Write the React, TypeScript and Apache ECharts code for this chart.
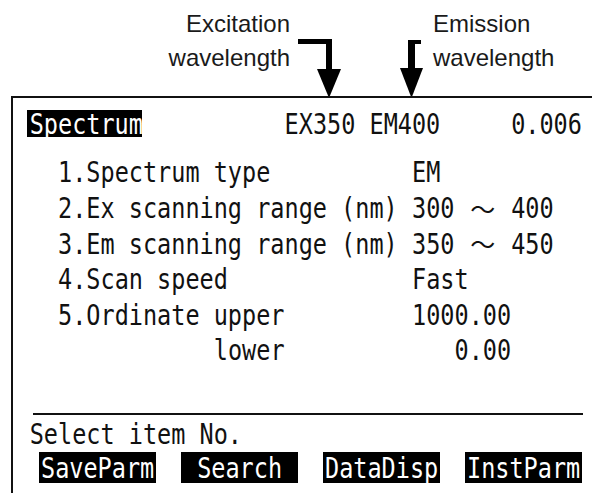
import React, { useEffect, useRef } from "react";
import * as echarts from "echarts";

// ---- content ----
const annotationExcitation = ["Excitation", "wavelength"];
const annotationEmission = ["Emission", "wavelength"];
const headerTitle = "Spectrum";
const headerWavelengths = "EX350 EM400";
const headerReading = "0.006";
const itemLabels = [
  "1.Spectrum type",
  "2.Ex scanning range (nm)",
  "3.Em scanning range (nm)",
  "4.Scan speed",
  "5.Ordinate upper",
  "lower",
];
const itemValues = ["EM", "300 ～ 400", "350 ～ 450", "Fast", "1000.00", "0.00"];
const promptText = "Select item No.";
const softKeys = ["SaveParm", " Search", "DataDisp", "InstParm"];

// ---- layout ----
const CELL = 14.16;
const GX = 29.7;
const FS = 29;
const SX = CELL / (FS * 0.602);
const MONO = "DejaVu Sans Mono";
const INK = "#111";

function cellText(str: string, col: number, cy: number, color: string, out: any[]) {
  let run = "";
  let runCol = col;
  let c = col;
  const flush = () => {
    if (run.trim().length) {
      out.push({
        type: "text",
        x: GX + runCol * CELL,
        y: cy,
        scaleX: SX,
        style: { text: run, fontFamily: MONO, fontSize: FS, fill: color, align: "left", verticalAlign: "middle" },
      });
    }
    run = "";
  };
  for (const ch of str) {
    if (ch === "～") {
      flush();
      out.push({
        type: "text",
        x: GX + (c + 1) * CELL,
        y: cy,
        style: { text: "～", fontFamily: "Noto Sans CJK JP", fontSize: 25, fill: color, align: "center", verticalAlign: "middle" },
      });
      c += 2;
    } else {
      if (!run) runCol = c;
      run += ch;
      c += 1;
    }
  }
  flush();
}

function buildGraphic() {
  const g: any[] = [];
  // annotations
  const annFont = { fontFamily: "Liberation Sans", fontSize: 24, fill: "#1a1a1a" };
  g.push({ type: "text", x: 290, y: 35, style: { ...annFont, text: annotationExcitation[0], align: "right", verticalAlign: "bottom" } });
  g.push({ type: "text", x: 290, y: 69, style: { ...annFont, text: annotationExcitation[1], align: "right", verticalAlign: "bottom" } });
  g.push({ type: "text", x: 433, y: 35, style: { ...annFont, text: annotationEmission[0], align: "left", verticalAlign: "bottom" } });
  g.push({ type: "text", x: 433, y: 69, style: { ...annFont, text: annotationEmission[1], align: "left", verticalAlign: "bottom" } });
  // excitation arrow
  g.push({ type: "rect", shape: { x: 298, y: 39, width: 34, height: 5 }, style: { fill: "#000" } });
  g.push({ type: "rect", shape: { x: 326, y: 39, width: 6, height: 32 }, style: { fill: "#000" } });
  g.push({ type: "polygon", shape: { points: [[317, 69], [341, 69], [329, 98]] }, style: { fill: "#000" } });
  // emission arrow
  g.push({ type: "rect", shape: { x: 408, y: 40, width: 13, height: 4 }, style: { fill: "#000" } });
  g.push({ type: "rect", shape: { x: 408, y: 40, width: 7, height: 30 }, style: { fill: "#000" } });
  g.push({ type: "polygon", shape: { points: [[400, 68], [423, 68], [411.5, 98]] }, style: { fill: "#000" } });
  // frame
  g.push({ type: "rect", shape: { x: 11, y: 96, width: 581, height: 2 }, style: { fill: "#111" } });
  g.push({ type: "rect", shape: { x: 11, y: 96, width: 2, height: 397 }, style: { fill: "#111" } });

  // header
  g.push({ type: "rect", shape: { x: 27, y: 110, width: 115, height: 27 }, style: { fill: "#000" } });
  cellText(headerTitle, 0, 124, "#fff", g);
  cellText(headerWavelengths, 18, 124, INK, g);
  cellText(headerReading, 39 - headerReading.length, 124, INK, g);

  // items
  const ROW0 = 172;
  const ROWP = 35.6;
  let prevLabelEnd = 2;
  let prevValueEnd = 27;
  itemLabels.forEach((lab, i) => {
    const cy = ROW0 + i * ROWP;
    const cont = !/^\d/.test(lab);
    const lc = cont ? prevLabelEnd - lab.length : 2;
    cellText(lab, lc, cy, INK, g);
    prevLabelEnd = lc + lab.length;
    const val = itemValues[i];
    const vc = cont ? prevValueEnd - val.length : 27;
    cellText(val, vc, cy, INK, g);
    prevValueEnd = vc + val.length;
  });

  // separator + prompt
  g.push({ type: "rect", shape: { x: 33, y: 413, width: 550, height: 2 }, style: { fill: "#111" } });
  cellText(promptText, 0, 434, INK, g);

  // soft keys
  softKeys.forEach((k, i) => {
    const bx = 39 + i * 142;
    g.push({ type: "rect", shape: { x: bx, y: 452, width: 117, height: 31 }, style: { fill: "#000" } });
    const col = (bx + 2 - GX) / CELL;
    cellText(k, col, 468, "#fff", g);
  });
  return g;
}

export default function App() {
  const ref = useRef<HTMLDivElement>(null);
  useEffect(() => {
    if (!ref.current) return;
    const chart = echarts.init(ref.current, undefined, { renderer: "svg" });
    chart.setOption({ animation: false, backgroundColor: "#fff", graphic: buildGraphic() });
    return () => chart.dispose();
  }, []);
  return <div ref={ref} style={{ position: "fixed", left: 0, top: 0, width: 594, height: 493 }} />;
}
